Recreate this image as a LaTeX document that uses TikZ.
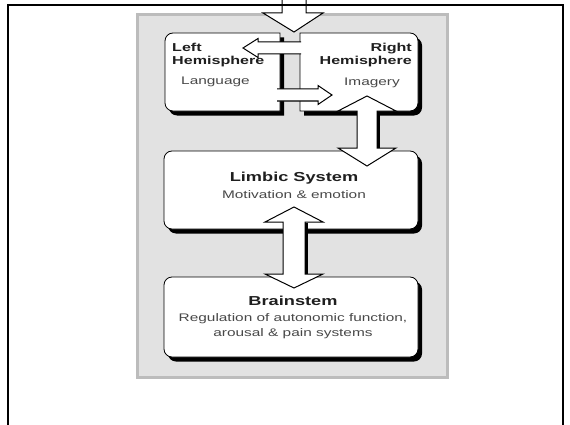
\documentclass[tikz,border=0pt]{standalone}
\usepackage{fontspec}
\setmainfont{Liberation Sans}[FakeStretch=1.4]
\usetikzlibrary{shadows}

\definecolor{panelgray}{RGB}{226,226,226}
\definecolor{rimgray}{RGB}{188,188,188}
\definecolor{subgray}{RGB}{72,72,72}

\tikzset{
  panel/.style={draw=black, line width=0.8pt, fill=white,
    drop shadow={shadow xshift=4pt, shadow yshift=-4.5pt, fill=black, opacity=1}},
  blockarrow/.style={draw=black, line width=1pt, fill=white, line join=miter},
  title/.style={font=\fontsize{13}{15}\selectfont\bfseries, text=black!88, inner sep=0pt},
  hemi/.style={font=\fontsize{11.5}{13}\selectfont\bfseries, text=black!88, inner sep=0pt},
  sub/.style={font=\fontsize{11}{15}\selectfont, text=subgray, inner sep=0pt}
}

\begin{document}
\begin{tikzpicture}[x=1pt,y=1pt]
\useasboundingbox (0,0) rectangle (570,424);
\fill[white] (0,0) rectangle (570,424);

\draw[draw=rimgray, fill=panelgray, line width=3pt] (137,47) rectangle (447,409);

\path[panel] (280,391) -- (173,391) arc[start angle=90,end angle=180,radius=8]
  -- (165,321) arc[start angle=180,end angle=270,radius=8] -- (280,313) -- cycle;
\path[panel] (300,391) -- (410,391) arc[start angle=90,end angle=0,radius=8]
  -- (418,321) arc[start angle=0,end angle=-90,radius=8] -- (300,313) -- cycle;
\node[panel, rounded corners=8pt, minimum width=254pt, minimum height=78pt] (lim) at (291,234) {};
\node[panel, rounded corners=8pt, minimum width=254pt, minimum height=80pt] (brs) at (291,107) {};

\node[hemi, anchor=base west] (lhl) at (172,372) {Left};
\node[hemi, anchor=base west] (lhh) at (172,359) {Hemisphere};
\node[sub, anchor=base west] (lang) at (181,339) {Language};
\node[hemi, anchor=base east] (rhr) at (412,372) {Right};
\node[hemi, anchor=base east] (rhh) at (412,359) {Hemisphere};
\node[sub, anchor=base] (img) at (372,338) {Imagery};
\node[title, anchor=base] (limt) at (294,242.5) {Limbic System};
\node[sub, anchor=base] (lims) at (294,226) {Motivation \& emotion};
\node[title, anchor=base] (brst) at (293,118.5) {Brainstem};
\node[sub, anchor=base] (brs1) at (293,103) {Regulation of autonomic function,};
\node[sub, anchor=base] (brs2) at (293,88) {arousal \& pain systems};

\path[blockarrow] (282,426) -- (282,411) -- (263,411) -- (294,392) -- (323,411) -- (306,411) -- (306,426);
\path[blockarrow] (301,382) -- (258,382) -- (258,385.5) -- (243,376) -- (258,366.5) -- (258,370) -- (301,370);
\path[blockarrow] (277,335) -- (318,335) -- (318,338.5) -- (332,329) -- (318,319.5) -- (318,323) -- (277,323);

\path[blockarrow] (357,313) -- (338,313) -- (367,328) -- (396,313) -- (377,313) -- (377,276)
  -- (396,276) -- (367,258) -- (338,276) -- (357,276) -- cycle;
\draw[line width=2.5pt] (378.5,312.5) -- (378.5,276.5);

\path[blockarrow] (283,202) -- (265,202) -- (294,217) -- (323,202) -- (305,202) -- (305,150)
  -- (323,150) -- (294,136) -- (265,150) -- (283,150) -- cycle;
\draw[line width=2.5pt] (306.5,201.5) -- (306.5,150.5);

\draw[line width=2.5pt] (8,-5) -- (8,419) -- (563,419) -- (563,-5);
\end{tikzpicture}
\end{document}
